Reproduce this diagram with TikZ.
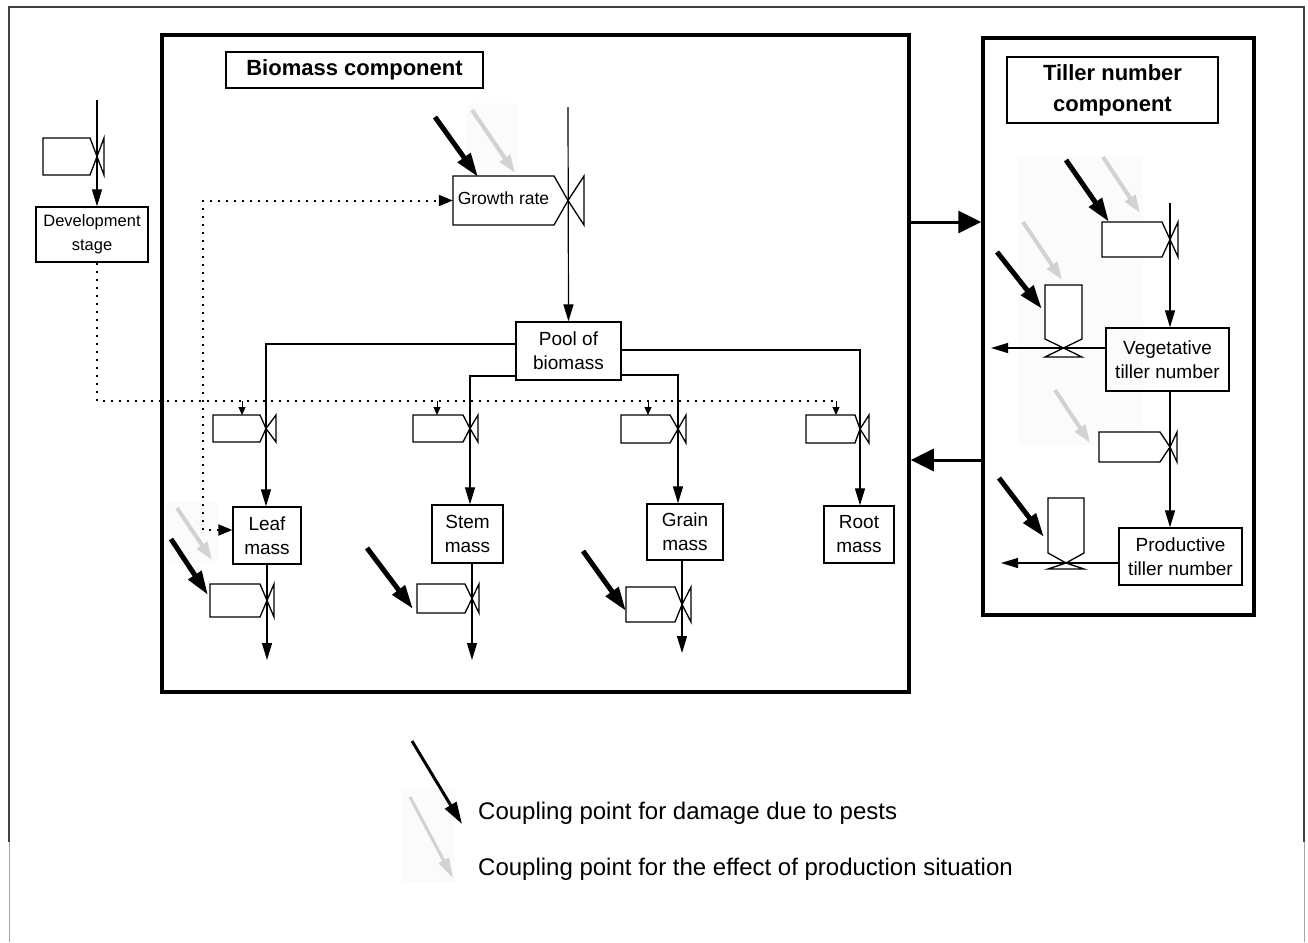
\documentclass[tikz,border=0pt]{standalone}
\usepackage{fontspec}
\setmainfont{Liberation Sans}
\usetikzlibrary{arrows.meta}

% horizontal flow valve: #1 left, #2 body end, #3 flow x, #4 bar x, #5 top, #6 bottom, #7 centre y
\newcommand{\flowvalve}[7]{%
  \draw[valve] (#1,#5) -- (#2,#5) -- (#3,#7) -- (#2,#6) -- (#1,#6) -- cycle;
  \draw[valve] (#3,#7) -- (#4,#5) -- (#4,#6) -- cycle;}
% vertical flow valve: #1 left, #2 right, #3 top, #4 body end, #5 flow y, #6 bar y, #7 centre x
\newcommand{\sidevalve}[7]{%
  \draw[valve] (#1,#3) -- (#2,#3) -- (#2,#4) -- (#7,#5) -- (#1,#4) -- cycle;
  \draw[valve] (#7,#5) -- (#2,#6) -- (#1,#6) -- cycle;}

\begin{document}
\begin{tikzpicture}[x=1pt,y=-1pt,
  box/.style={draw, line width=1.3pt, inner sep=0pt, align=center,
    font=\fontsize{19}{24}\selectfont},
  frame/.style={draw, line width=3.5pt, inner sep=0pt},
  titlebox/.style={draw, line width=2.5pt, inner sep=0pt, align=center,
    font=\fontsize{22}{31}\selectfont\bfseries},
  flow/.style={line width=1.2pt, -{Triangle[length=17pt,width=10pt]}},
  valve/.style={line width=1.3pt, fill=white, line join=miter},
  ctrl/.style={line width=2pt, dash pattern=on 2pt off 6pt},
  ctrlarrow/.style={ctrl, {Triangle[length=14pt,width=11pt]}-{Triangle[length=14pt,width=11pt]}},
  tick/.style={line width=1pt, -{Triangle[length=8pt,width=7pt]}},
  pest/.style={line width=5pt, -{Triangle[length=24pt,width=15pt]}},
  env/.style={line width=4pt, gray!35, -{Triangle[length=18pt,width=12pt]}},
  bigarrow/.style={line width=3pt, -{Triangle[length=23pt,width=22pt]}},
  haze/.style={fill=gray!3, draw=none},
  legend/.style={anchor=west, inner sep=0pt, font=\fontsize{24}{28}\selectfont},
]
\useasboundingbox (0,0) rectangle (1308,942);

% page frame
\draw[black!75, line width=1.2pt] (9,842) -- (9,7) -- (1304,7) -- (1304,842);
\draw[black!35, line width=1pt] (9,842) -- (9,942) (1304,842) -- (1304,942);

% faint backgrounds behind the production-situation markers
\fill[haze] (467,103) rectangle (518,175);
\fill[haze] (167,502) rectangle (218,563);
\fill[haze] (1018,157) rectangle (1143,445);
\fill[haze] (402,788) rectangle (455,882);

% component frames
\node[frame, minimum width=747pt, minimum height=657pt] (bio) at (535.5,363.5) {};
\node[frame, minimum width=271pt, minimum height=577pt] (til) at (1118.5,326.5) {};
\node[titlebox, minimum width=257pt, minimum height=36pt] (biot) at (354.5,70) {Biomass component};
\node[titlebox, minimum width=211pt, minimum height=66pt] (tilt) at (1112.5,90) {Tiller number\\component};

% state and rate boxes
\node[box, font=\fontsize{16.5}{24}\selectfont, minimum width=112pt, minimum height=55pt] (dev) at (92,234.5) {Development\\stage};
\node[box, minimum width=105pt, minimum height=58pt] (pool) at (568.5,351) {Pool of\\biomass};
\node[box, minimum width=68pt, minimum height=57pt] (leaf) at (267,535.5) {Leaf\\mass};
\node[box, minimum width=71pt, minimum height=58pt] (stem) at (467.5,534) {Stem\\mass};
\node[box, minimum width=76pt, minimum height=56pt] (grain) at (685,532) {Grain\\mass};
\node[box, minimum width=70pt, minimum height=57pt] (root) at (859,534.5) {Root\\mass};
\node[box, minimum width=123pt, minimum height=63pt] (veg) at (1167.5,359.5) {Vegetative\\tiller number};
\node[box, minimum width=123pt, minimum height=57pt] (prod) at (1180.5,556.5) {Productive\\tiller number};

% flow sources and sinks
\coordinate (devsrc) at (97,100);
\coordinate (grsrc) at (568,107);
\coordinate (tilsrc) at (1170,203);
\coordinate (leafsink) at (267,660);
\coordinate (stemsink) at (472,660);
\coordinate (grainsink) at (682,653);
\coordinate (vegsink) at (991,348);
\coordinate (prodsink) at (1001,563);

% material flows
\draw[flow] (devsrc) -- (devsrc |- dev.north);
\draw[flow] (grsrc) -- (pool.north);
\draw[flow] ([yshift=7pt]pool.west) -| ([xshift=-1pt]leaf.north);
\draw[flow] ([yshift=-25pt]pool.west) -| ([xshift=2.5pt]stem.north);
\draw[flow] ([yshift=-24pt]pool.east) -| ([xshift=-7pt]grain.north);
\draw[flow] ([yshift=1pt]pool.east) -| ([xshift=1pt]root.north);
\draw[flow] (leaf.south) -- (leafsink);
\draw[flow] (stemsink |- stem.south) -- (stemsink);
\draw[flow] (grainsink |- grain.south) -- (grainsink);
\draw[flow] (tilsrc) -- (tilsrc |- veg.north);
\draw[flow] (tilsrc |- veg.south) -- (tilsrc |- prod.north);
\draw[flow] (veg.west |- vegsink) -- (vegsink);
\draw[flow] (prod.west |- prodsink) -- (prodsink);

% valves
\flowvalve{43}{90}{97}{104}{138}{175}{156.5}
\flowvalve{453}{554}{568}{584}{176}{225}{200.5}
\node[inner sep=0pt, minimum width=101pt, minimum height=49pt, font=\fontsize{17.5}{21}\selectfont] (gr) at (503.5,200.5) {Growth rate\strut};
\flowvalve{213}{260}{266}{276}{415}{442}{428.5}
\flowvalve{413}{463}{470}{478}{415}{442}{428.5}
\flowvalve{621}{670}{678}{686}{415}{443}{429}
\flowvalve{806}{855}{860}{869}{415}{443}{429}
\flowvalve{210}{260}{267}{274}{584}{617}{600.5}
\flowvalve{417}{465}{472}{479}{584}{613}{598.5}
\flowvalve{626}{675}{682}{691}{587}{622}{604.5}
\flowvalve{1102}{1162}{1170}{1178}{222}{257}{239.5}
\flowvalve{1099}{1160}{1170}{1177}{432}{462}{447}
\sidevalve{1045}{1082}{285}{339}{348}{357}{1063.5}
\sidevalve{1048}{1084}{498}{553}{563}{569}{1066}

% information links from development stage
\coordinate (cbus) at (836,401);
\draw[ctrl] ([xshift=5pt]dev.south) |- (cbus);
\draw[tick] (242,401) -- (242,415);
\draw[tick] (437,401) -- (437,415);
\draw[tick] (648,401) -- (648,415);
\draw[tick] (cbus) -- (836,415);
% link between leaf mass and growth rate
\draw[ctrlarrow] ([yshift=5.5pt]leaf.west) -| (203,200.5) -- (gr.west);

% exchange between the two components
\draw[bigarrow] ([yshift=141.5pt]bio.east) -- ([yshift=141.5pt]bio.east -| til.west);
\draw[bigarrow] ([yshift=-133.5pt]til.west) -- ([yshift=-133.5pt]til.west -| bio.east);

% coupling points: production situation
\draw[env] (472,110) -- (515,173);
\draw[env] (177,508) -- (212,560);
\draw[env] (1103,157) -- (1140,213);
\draw[env] (1023,222) -- (1062,280);
\draw[env] (1055,390) -- (1090,443);

% coupling points: pest damage
\draw[pest] (435,117) -- (478,177);
\draw[pest] (171,539) -- (208,595);
\draw[pest] (367,548) -- (413,609);
\draw[pest] (583,551) -- (626,611);
\draw[pest] (1066,160) -- (1109,222);
\draw[pest] (997,252) -- (1042,309);
\draw[pest] (999,478) -- (1044,537);

% legend
\draw[line width=3pt, -{Triangle[length=22pt,width=13pt]}] (412,741) -- (462,824);
\draw[line width=3pt, gray!35, -{Triangle[length=20pt,width=11pt]}] (410,797) -- (453,878);
\node[legend] (lg1) at (478,813) {Coupling point for damage due to pests};
\node[legend] (lg2) at (478,869) {Coupling point for the effect of production situation};
\end{tikzpicture}
\end{document}
